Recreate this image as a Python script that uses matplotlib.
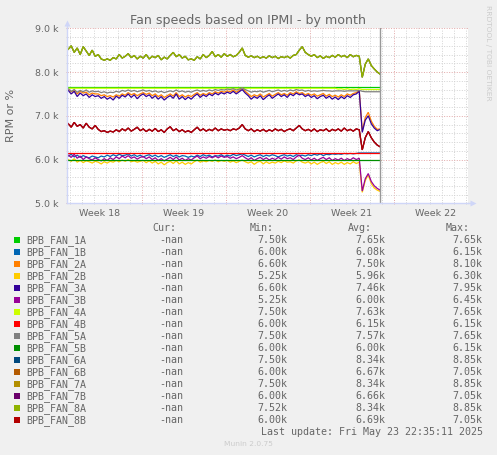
import numpy as np
import matplotlib
matplotlib.use("Agg")
import matplotlib.pyplot as plt
from matplotlib.patches import Rectangle
from matplotlib.ticker import MultipleLocator, FuncFormatter

# ---------------- data ----------------
# time axis in days, counted from the start of week 18
days = np.linspace(0.88, 26.88, 105)

week_labels = ["Week 18", "Week 19", "Week 20", "Week 21", "Week 22"]
week_starts = [0, 7, 14, 21, 28, 35]

fan_1a = [7650] * 105
fan_4b = [6150] * 105
fan_5b = [6000] * 105

fan_4a = [7630] * 90 + [7610, 7620, 7600, 7620, 7600, 7610, 7600, 7620, 7600,
                        7600, 7600, 7600, 7600, 7600, 7600]

band_8a = [8520, 8600, 8450, 8550, 8400, 8580, 8480, 8380, 8500, 8360,
           8400, 8300, 8270, 8300, 8270, 8330, 8300, 8400, 8320, 8360,
           8420, 8330, 8380, 8300, 8360, 8320, 8400, 8300, 8360, 8330,
           8380, 8280, 8340, 8300, 8380, 8450, 8350, 8400, 8320, 8360,
           8280, 8300, 8270, 8350, 8300, 8400, 8330, 8380, 8470, 8350,
           8400, 8340, 8420, 8360, 8400, 8350, 8380, 8450, 8550, 8380,
           8340, 8370, 8330, 8360, 8320, 8350, 8320, 8370, 8330, 8360,
           8310, 8350, 8330, 8360, 8320, 8380, 8400, 8500, 8580, 8450,
           8400, 8360, 8400, 8330, 8370, 8310, 8360, 8330, 8380, 8340,
           8400, 8350, 8380, 8330, 8400, 8350, 8380, 8360, 7880, 8180,
           8300, 8150, 8070, 8000, 7950]

fan_3a = [7580, 7500, 7560, 7440, 7520, 7460, 7500, 7420, 7480, 7440,
          7460, 7400, 7440, 7380, 7420, 7360, 7450, 7400, 7470, 7430,
          7500, 7420, 7480, 7390, 7460, 7500, 7440, 7480, 7400, 7460,
          7380, 7440, 7360, 7420, 7460, 7400, 7500, 7380, 7440, 7370,
          7430, 7380, 7450, 7500, 7420, 7480, 7440, 7500, 7460, 7520,
          7480, 7530, 7500, 7540, 7510, 7560, 7500, 7550, 7600, 7520,
          7460, 7380, 7440, 7400, 7460, 7370, 7430, 7480, 7400, 7450,
          7500, 7440, 7480, 7420, 7500, 7460, 7520, 7480, 7500, 7440,
          7480, 7420, 7460, 7390, 7440, 7470, 7400, 7450, 7380, 7430,
          7370, 7440, 7390, 7460, 7420, 7480, 7500, 7560, 6620, 6900,
          7000, 6820, 6720, 6660, 6690]

fan_2a = [7600, 7550, 7580, 7500, 7560, 7520, 7540, 7480, 7520, 7500,
          7500, 7460, 7480, 7440, 7460, 7430, 7480, 7450, 7500, 7470,
          7530, 7480, 7510, 7460, 7500, 7530, 7490, 7520, 7460, 7500,
          7440, 7480, 7420, 7460, 7500, 7450, 7530, 7440, 7480, 7430,
          7470, 7440, 7490, 7530, 7470, 7510, 7480, 7530, 7500, 7550,
          7520, 7560, 7540, 7570, 7550, 7590, 7540, 7580, 7640, 7560,
          7500, 7440, 7480, 7450, 7500, 7430, 7470, 7510, 7450, 7490,
          7530, 7480, 7510, 7470, 7530, 7500, 7550, 7510, 7530, 7480,
          7510, 7470, 7500, 7450, 7480, 7510, 7450, 7490, 7440, 7470,
          7430, 7480, 7440, 7500, 7470, 7510, 7530, 7580, 6650, 6960,
          7080, 6880, 6760, 6690, 6700]

fan_5a = [7620, 7560, 7600, 7540, 7580, 7550, 7590, 7540, 7570, 7550,
          7560, 7530, 7550, 7520, 7540, 7530, 7560, 7540, 7580, 7560,
          7590, 7560, 7580, 7550, 7570, 7590, 7560, 7580, 7550, 7570,
          7540, 7560, 7530, 7550, 7570, 7550, 7590, 7550, 7570, 7540,
          7560, 7540, 7570, 7590, 7560, 7580, 7560, 7590, 7570, 7600,
          7580, 7600, 7590, 7610, 7600, 7620, 7590, 7610, 7640, 7600,
          7570, 7540, 7560, 7550, 7570, 7540, 7560, 7580, 7550, 7570,
          7590, 7560, 7580, 7560, 7590, 7570, 7600, 7580, 7590, 7560,
          7580, 7560, 7570, 7560, 7570, 7580, 7570, 7570, 7560, 7570,
          7570, 7570, 7560, 7570, 7570, 7570, 7570, 7580, 7560, 7550,
          7550, 7550, 7550, 7550, 7550]

band_8b = [6820, 6740, 6850, 6760, 6800, 6720, 6830, 6740, 6700, 6780,
           6690, 6640, 6660, 6620, 6650, 6630, 6680, 6640, 6700, 6660,
           6720, 6650, 6690, 6740, 6660, 6700, 6640, 6690, 6650, 6710,
           6640, 6680, 6620, 6700, 6750, 6660, 6700, 6640, 6680, 6630,
           6660, 6620, 6680, 6740, 6660, 6700, 6650, 6690, 6660, 6720,
           6660, 6700, 6670, 6690, 6660, 6700, 6680, 6720, 6800, 6700,
           6660, 6700, 6640, 6680, 6650, 6690, 6640, 6680, 6650, 6700,
           6660, 6690, 6640, 6680, 6700, 6660, 6720, 6780, 6700, 6660,
           6690, 6650, 6700, 6640, 6680, 6660, 6700, 6640, 6690, 6660,
           6700, 6650, 6720, 6660, 6690, 6650, 6700, 6680, 6220, 6500,
           6640, 6500, 6400, 6330, 6290]

fan_1b = [6080, 6120, 6060, 6100, 6050, 6090, 6060, 6040, 6080, 6060,
          6040, 6080, 6060, 6100, 6070, 6110, 6080, 6120, 6090, 6100,
          6130, 6080, 6110, 6070, 6100, 6060, 6090, 6110, 6070, 6100,
          6060, 6090, 6050, 6080, 6110, 6070, 6100, 6060, 6090, 6080,
          6050, 6080, 6060, 6100, 6070, 6110, 6080, 6100, 6060, 6090,
          6080, 6110, 6070, 6100, 6080, 6120, 6090, 6110, 6130, 6100,
          6070, 6100, 6060, 6090, 6110, 6070, 6100, 6080, 6110, 6090,
          6060, 6090, 6110, 6080, 6100, 6070, 6110, 6090, 6100, 6080,
          6110, 6090, 6120, 6100, 6130, 6090, 6120, 6110, 6130, 6120,
          6130, 6120, 6140, 6130, 6140, 6130, 6140, 6150, 6150, 6150,
          6150, 6150, 6150, 6150, 6150]

fan_3b = [6100, 6050, 6120, 6030, 6080, 6000, 6060, 6020, 5990, 6040,
          6000, 5970, 6020, 5980, 6040, 6000, 6060, 6020, 6080, 6040,
          6090, 6030, 6060, 6010, 6050, 6070, 6020, 6060, 6000, 6040,
          5980, 6020, 5970, 6010, 6050, 6000, 6060, 5990, 6030, 5980,
          6020, 5990, 6040, 6080, 6020, 6060, 6030, 6070, 6040, 6080,
          6040, 6080, 6050, 6070, 6030, 6060, 6020, 6050, 6090, 6040,
          6000, 6040, 5980, 6020, 6050, 6000, 6040, 5990, 6030, 6000,
          6050, 6010, 6060, 6020, 6040, 6000, 6060, 6100, 6030, 6000,
          6040, 5990, 6030, 5980, 6020, 6050, 6000, 6040, 5980, 6020,
          5990, 6030, 5980, 6020, 5990, 6040, 6000, 6030, 5280, 5560,
          5680, 5500, 5400, 5340, 5300]

fan_2b = [6000, 5960, 6020, 5940, 5980, 5930, 5970, 5950, 5920, 5960,
          5940, 5900, 5950, 5920, 5960, 5940, 5980, 5950, 5990, 5960,
          6000, 5950, 5970, 5940, 5960, 5980, 5930, 5970, 5920, 5960,
          5900, 5940, 5880, 5930, 5960, 5910, 5970, 5900, 5940, 5890,
          5930, 5900, 5950, 5990, 5940, 5970, 5950, 5980, 5960, 5990,
          5950, 5980, 5960, 5980, 5940, 5970, 5930, 5960, 5990, 5950,
          5920, 5950, 5890, 5940, 5960, 5900, 5950, 5910, 5940, 5920,
          5960, 5930, 5970, 5940, 5950, 5920, 5970, 5990, 5940, 5920,
          5950, 5900, 5940, 5890, 5930, 5960, 5910, 5950, 5890, 5930,
          5900, 5940, 5890, 5930, 5900, 5950, 5910, 5940, 5250, 5520,
          5650, 5450, 5350, 5300, 5270]

fan_6a = band_8a
fan_7a = band_8a
fan_8a = band_8a
fan_6b = band_8b
fan_7b = band_8b
fan_8b = band_8b

names = ["BPB_FAN_1A", "BPB_FAN_1B", "BPB_FAN_2A", "BPB_FAN_2B", "BPB_FAN_3A",
         "BPB_FAN_3B", "BPB_FAN_4A", "BPB_FAN_4B", "BPB_FAN_5A", "BPB_FAN_5B",
         "BPB_FAN_6A", "BPB_FAN_6B", "BPB_FAN_7A", "BPB_FAN_7B", "BPB_FAN_8A",
         "BPB_FAN_8B"]
colors = ["#00CC00", "#0066B3", "#FF8000", "#FFCC00", "#330099", "#990099",
          "#CCFF00", "#FF0000", "#808080", "#008F00", "#00487D", "#B35A00",
          "#B38F00", "#6B006B", "#8FB300", "#B30000"]
series = [fan_1a, fan_1b, fan_2a, fan_2b, fan_3a, fan_3b, fan_4a, fan_4b,
          fan_5a, fan_5b, fan_6a, fan_6b, fan_7a, fan_7b, fan_8a, fan_8b]
cur_vals = ["-nan"] * 16
min_vals = ["7.50k", "6.00k", "6.60k", "5.25k", "6.60k", "5.25k", "7.50k", "6.00k",
            "7.50k", "6.00k", "7.50k", "6.00k", "7.50k", "6.00k", "7.52k", "6.00k"]
avg_vals = ["7.65k", "6.08k", "7.50k", "5.96k", "7.46k", "6.00k", "7.63k", "6.15k",
            "7.57k", "6.00k", "8.34k", "6.67k", "8.34k", "6.66k", "8.34k", "6.69k"]
max_vals = ["7.65k", "6.15k", "8.10k", "6.30k", "7.95k", "6.45k", "7.65k", "6.15k",
            "7.65k", "6.15k", "8.85k", "7.05k", "8.85k", "7.05k", "8.85k", "7.05k"]

# ---------------- figure ----------------
W, H = 497, 455
BG = "#F0F0F0"
FONT = "#666666"
AXIS = "#CFD6F8"
MINOR = "#D2D2D2"
MAJOR = "#E2A8A8"

fig = plt.figure(figsize=(W / 100, H / 100), dpi=100, facecolor=BG)


def fx(px):
    return px / W


def fy(py):
    return 1 - py / H


ax = fig.add_axes([fx(67), fy(203.3), 401 / W, 175 / H])
ax.set_facecolor("white")
ax.set_xlim(0.78, 34.19)
ax.set_ylim(5000, 9000)

ax.yaxis.set_major_locator(MultipleLocator(1000))
ax.yaxis.set_minor_locator(MultipleLocator(200))
ax.yaxis.set_major_formatter(FuncFormatter(lambda v, p: f"{v/1000:.1f} k"))
ax.set_xticks(week_starts[1:-1])
ax.set_xticks(np.arange(1, 35), minor=True)
ax.set_xticklabels([])

dots = (0, (1, 1.6))
ax.grid(which="minor", color=MINOR, linestyle=dots, linewidth=0.7)
ax.grid(which="major", color=MAJOR, linestyle=dots, linewidth=0.7)
ax.set_axisbelow(True)

ax.tick_params(which="both", length=2, width=0.7, direction="inout",
               labelsize=6.8, labelcolor=FONT)
ax.tick_params(which="major", color=MAJOR)
ax.tick_params(which="minor", color=MINOR)
ax.tick_params(axis="y", which="major", pad=5)

for s in ["top", "right"]:
    ax.spines[s].set_visible(False)
for s in ["left", "bottom"]:
    ax.spines[s].set_color(AXIS)
    ax.spines[s].set_linewidth(1.0)

# axis arrows
ax.plot([0, 0], [1, 1.02], transform=ax.transAxes, color=AXIS, lw=1.0, clip_on=False)
ax.plot([1, 1.01], [0, 0], transform=ax.transAxes, color=AXIS, lw=1.0, clip_on=False)
ax.plot([0], [1.03], transform=ax.transAxes, marker="^", ms=4, color=AXIS,
        clip_on=False, mec="none")
ax.plot([1.012], [0], transform=ax.transAxes, marker=">", ms=4, color=AXIS,
        clip_on=False, mec="none")

# week labels centered within each week
for i, lab in enumerate(week_labels):
    xc = (week_starts[i] + week_starts[i + 1]) / 2
    ax.text(xc, fy(216.5), lab, transform=ax.get_xaxis_transform() if False else
            matplotlib.transforms.blended_transform_factory(ax.transData, fig.transFigure),
            ha="center", va="baseline", fontsize=6.8, color=FONT)

for vals, c in zip(series, colors):
    ax.plot(days, vals, color=c, lw=0.9, solid_joinstyle="miter")

ax.axvline(days[-1], color="#999999", lw=1.0)

# title and labels
fig.text(fx(248), fy(24), "Fan speeds based on IPMI - by month", ha="center",
         va="baseline", fontsize=9.1, color=FONT)
fig.text(fx(11.5), fy(115), "RPM or %", rotation=90, ha="center", va="center",
         fontsize=8, color=FONT)
fig.text(fx(488), fy(53), "RRDTOOL / TOBI OETIKER", rotation=270, ha="center",
         va="center", fontsize=5.4, color="#CCCCCC")

# legend
mono = dict(family="DejaVu Sans Mono", fontsize=7.2, color=FONT)
hdr_y = 227.7 + 3.6
for txt, xr in zip(["Cur:", "Min:", "Avg:", "Max:"], [176.7, 274, 372, 470]):
    fig.text(fx(xr), fy(hdr_y), txt, ha="right", va="baseline", **mono)

for k in range(16):
    yc = 239.7 + 12 * k
    fig.add_artist(Rectangle((fx(14), fy(yc + 3)), 6 / W, 6 / H,
                             transform=fig.transFigure, color=colors[k], lw=0))
    fig.text(fx(26), fy(yc + 3.6), names[k], ha="left", va="baseline", **mono)
    for txt, xr in zip([cur_vals[k], min_vals[k], avg_vals[k], max_vals[k]],
                       [183, 287.3, 385, 482.7]):
        fig.text(fx(xr), fy(yc + 3.6), txt, ha="right", va="baseline", **mono)

fig.text(fx(482.7), fy(431.7 + 3.6), "Last update: Fri May 23 22:35:11 2025",
         ha="right", va="baseline", **mono)
fig.text(fx(248), fy(444.3), "Munin 2.0.75", ha="center", va="center",
         fontsize=5.4, color="#CCCCCC")

fig.savefig("out.png", dpi=100, facecolor=BG)
